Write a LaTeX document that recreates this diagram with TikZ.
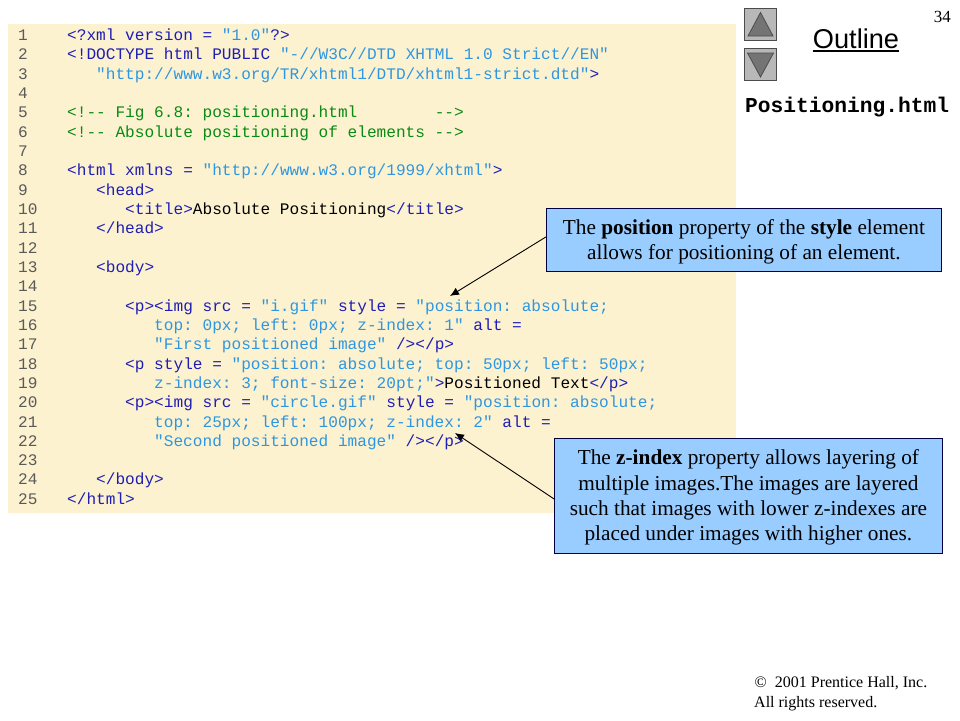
\documentclass[tikz,border=0pt]{standalone}
\usepackage{fontspec}
\setmainfont{Liberation Serif}
\setsansfont{Liberation Sans}
\newfontfamily\codefont{Liberation Mono}[Ligatures=ResetAll]
\definecolor{panel}{HTML}{FDF2D0}
\definecolor{tagc}{HTML}{1E1EB4}
\definecolor{valc}{HTML}{2E96E0}
\definecolor{comc}{HTML}{0A8A14}
\definecolor{numc}{HTML}{5A5A5A}
\definecolor{boxc}{HTML}{99CCFF}
\definecolor{btnc}{HTML}{B8B8B8}
\definecolor{tric}{HTML}{747474}
\newcommand\Tg[1]{\textcolor{tagc}{#1}}
\newcommand\Vl[1]{\textcolor{valc}{#1}}
\newcommand\Cm[1]{\textcolor{comc}{#1}}
\newcommand\codeln[3]{%
  \pgfmathsetmacro\ypos{40.4+(#1-1)*19.33}%
  \node[numtext] (n#1) at (18,\ypos) {#1};%
  \node[codetext] (c#1) at ({67+#2*9.67},\ypos) {#3};}
\newcommand\numln[1]{%
  \pgfmathsetmacro\ypos{40.4+(#1-1)*19.33}%
  \node[numtext] (n#1) at (18,\ypos) {#1};}
\newcommand\firstln{\rule{0pt}{18.5pt}}
\tikzset{
  x=1pt,y=-1pt,
  numtext/.style={anchor=base west,inner sep=0pt,text=numc,font=\codefont\frenchspacing\fontsize{16.12}{16}\selectfont},
  codetext/.style={anchor=base west,inner sep=0pt,text=black,font=\codefont\frenchspacing\fontsize{16.12}{16}\selectfont},
  notebox/.style={draw=black!75!blue,line width=0.8pt,fill=boxc,align=center,inner sep=0pt,font=\fontsize{21.3}{25.4}\selectfont},
  btn/.style={draw=black!70,line width=1pt,fill=btnc,minimum width=32pt,minimum height=32pt,inner sep=0pt},
  tri/.style={draw=black!70,line width=0.8pt,fill=tric},
  callout/.style={draw=black,line width=0.9pt,-{Latex[length=9pt,width=8pt]}},
}
\usetikzlibrary{arrows.meta}
\begin{document}
\begin{tikzpicture}
\useasboundingbox (0,0) rectangle (960,720);
\fill[white] (0,0) rectangle (960,720);
\node[draw=none,fill=panel,minimum width=728pt,minimum height=489pt,inner sep=0pt,anchor=north west] (panel) at (8,24) {};
\codeln{1}{0}{\Tg{<?xml version =~}\Vl{"1.0"}\Tg{?>}}
\codeln{2}{0}{\Tg{<!DOCTYPE html PUBLIC~}\Vl{"-//W3C//DTD XHTML 1.0 Strict//EN"}}
\codeln{3}{3}{\Vl{"http://www.w3.org/TR/xhtml1/DTD/xhtml1-strict.dtd"}\Tg{>}}
\numln{4}
\codeln{5}{0}{\Cm{<!-{}- Fig 6.8: positioning.html~~~~~~~~-{}->}}
\codeln{6}{0}{\Cm{<!-{}- Absolute positioning of elements -{}->}}
\numln{7}
\codeln{8}{0}{\Tg{<html xmlns =~}\Vl{"http://www.w3.org/1999/xhtml"}\Tg{>}}
\codeln{9}{3}{\Tg{<head>}}
\codeln{10}{6}{\Tg{<title>}Absolute Positioning\Tg{</title>}}
\codeln{11}{3}{\Tg{</head>}}
\numln{12}
\codeln{13}{3}{\Tg{<body>}}
\numln{14}
\codeln{15}{6}{\Tg{<p><img src =~}\Vl{"i.gif"}\Tg{~style =~}\Vl{"position: absolute;}}
\codeln{16}{9}{\Vl{top: 0px; left: 0px; z-index: 1"}\Tg{~alt =}}
\codeln{17}{9}{\Vl{"First positioned image"}\Tg{~/></p>}}
\codeln{18}{6}{\Tg{<p style =~}\Vl{"position: absolute; top: 50px; left: 50px;}}
\codeln{19}{9}{\Vl{z-index: 3; font-size: 20pt;"}\Tg{>}Positioned Text\Tg{</p>}}
\codeln{20}{6}{\Tg{<p><img src =~}\Vl{"circle.gif"}\Tg{~style =~}\Vl{"position: absolute;}}
\codeln{21}{9}{\Vl{top: 25px; left: 100px; z-index: 2"}\Tg{~alt =}}
\codeln{22}{9}{\Vl{"Second positioned image"}\Tg{~/></p>}}
\numln{23}
\codeln{24}{3}{\Tg{</body>}}
\codeln{25}{0}{\Tg{</html>}}
% buttons
\node[btn,anchor=north west] (up) at (744,8) {};
\node[btn,anchor=north west] (down) at (744,48) {};
\draw[tri] (760.5,12.5) -- (773,36) -- (748,36) -- cycle;
\draw[tri] (747.5,53) -- (773.5,53) -- (760.5,77) -- cycle;
% headings
\node[anchor=base,inner sep=0pt,font=\sffamily\fontsize{27.2}{27.2}\selectfont] (outline) at (856,48) {Outline};
\draw[line width=1.2pt] (outline.base west |- 0,51) -- (outline.base east |- 0,51);
\node[anchor=base east,inner sep=0pt,font=\fontsize{17}{17}\selectfont] (pg) at (951,22) {34};
\node[anchor=base west,inner sep=0pt,font=\codefont\bfseries\fontsize{21.25}{21.25}\selectfont] (fname) at (745,112.5) {Positioning.html};
% notes
\node[notebox,anchor=north west,minimum width=395pt,minimum height=63pt] (b1) at (546,208)
  {\firstln The \textbf{position} property of the \textbf{style} element\\allows for positioning of an element.};
\node[notebox,anchor=north west,minimum width=388pt,minimum height=115pt] (b2) at (554,438)
  {\firstln The \textbf{z-index} property allows layering of\\multiple images.The images are layered\\such that images with lower z-indexes are\\placed under images with higher ones.};
\coordinate (t1) at (450,296);
\coordinate (t2) at (455,433);
\draw[callout] ([yshift=3pt]b1.west) -- (t1);
\draw[callout] ([yshift=-3pt]b2.west) -- (t2);
% footer
\node[anchor=base west,inner sep=0pt,font=\fontsize{16}{16}\selectfont] (cp) at (754.5,687) {©\hspace{4pt} 2001 Prentice Hall, Inc.};
\node[anchor=base west,inner sep=0pt,font=\fontsize{16}{16}\selectfont] (rr) at (754,707) {All rights reserved.};
\end{tikzpicture}
\end{document}
